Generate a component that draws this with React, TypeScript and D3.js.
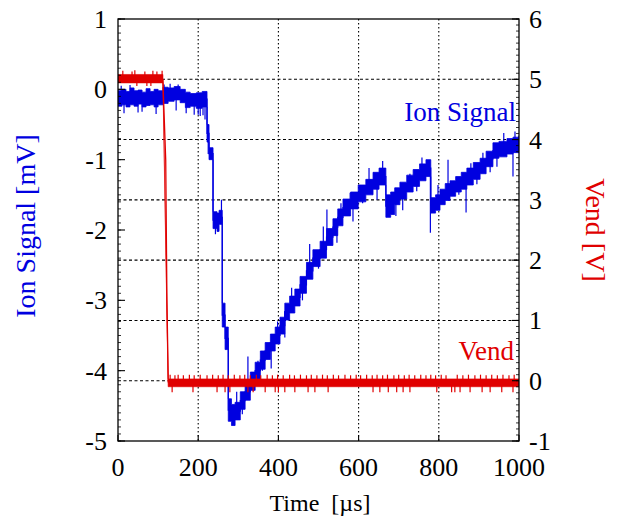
import React from 'react';
import * as d3 from 'd3';

// ---- Data ----
const xTicks = [0, 200, 400, 600, 800, 1000];
const leftTicks = [-5, -4, -3, -2, -1, 0, 1];
const rightTicks = [-1, 0, 1, 2, 3, 4, 5, 6];
const xGrid = [200, 400, 600, 800];
const rightGrid = [0, 1, 2, 3, 4, 5];

// Ion signal envelope [mV]
const ionTime = [0, 10, 20, 30, 40, 50, 60, 70, 80, 90, 100, 112, 125, 140, 155, 168, 180, 195, 210, 222, 227, 237, 247, 252, 260, 267, 275, 283, 292, 305, 317, 330, 342, 355, 367, 380, 392, 404, 416, 428, 441, 454, 470, 486, 504, 520, 536, 548, 561, 580, 599, 618, 636, 651, 668, 680, 690, 703, 720, 736, 752, 768, 780, 792, 803, 816, 828, 842, 856, 870, 886, 903, 918, 935, 950, 970, 985, 1000];
const ionLow = [-0.24, -0.22, -0.25, -0.22, -0.24, -0.21, -0.25, -0.23, -0.22, -0.25, -0.22, -0.2, -0.17, -0.15, -0.19, -0.26, -0.24, -0.27, -0.25, -0.75, -1.0, -1.98, -2.02, -1.92, -3.38, -3.7, -4.72, -4.78, -4.7, -4.55, -4.42, -4.28, -4.12, -3.98, -3.84, -3.72, -3.62, -3.48, -3.28, -3.18, -3.08, -2.9, -2.7, -2.52, -2.4, -2.22, -2.08, -1.94, -1.8, -1.7, -1.6, -1.5, -1.42, -1.36, -1.82, -1.78, -1.64, -1.56, -1.46, -1.38, -1.3, -1.24, -1.76, -1.72, -1.64, -1.58, -1.52, -1.46, -1.42, -1.36, -1.28, -1.2, -1.1, -0.98, -0.96, -0.92, -0.9, -0.88];
const ionHigh = [-0.02, 0.0, -0.03, 0.02, -0.02, -0.01, -0.04, 0.01, -0.03, 0.0, -0.02, 0.03, 0.02, 0.04, 0.0, -0.04, -0.06, -0.05, -0.03, -0.5, -0.83, -1.74, -1.76, -1.72, -3.04, -3.38, -4.4, -4.48, -4.45, -4.3, -4.18, -4.02, -3.88, -3.72, -3.6, -3.48, -3.38, -3.24, -3.04, -2.94, -2.84, -2.66, -2.46, -2.28, -2.16, -1.98, -1.84, -1.7, -1.56, -1.46, -1.36, -1.28, -1.18, -1.12, -1.5, -1.46, -1.4, -1.32, -1.22, -1.14, -1.06, -1.0, -1.54, -1.5, -1.42, -1.34, -1.3, -1.24, -1.18, -1.12, -1.04, -0.98, -0.88, -0.76, -0.74, -0.7, -0.68, -0.66];
// Ion signal spikes: time [µs], tip value [mV]
const ionSpikeTime = [8, 15, 30, 50, 60, 95, 115, 130, 145, 150, 170, 190, 200, 205, 212, 217, 225, 243, 258, 296, 310, 324, 349, 360, 382, 398, 416, 433, 460, 478, 500, 512, 521, 546, 556, 579, 586, 610, 626, 646, 660, 693, 710, 728, 745, 758, 779, 798, 823, 850, 868, 880, 895, 910, 928, 945, 962, 985, 990];
const ionSpikeValue = [0.05, -0.34, 0.06, -0.33, -0.32, -0.35, 0.07, 0.08, -0.3, 0.07, -0.34, -0.36, -0.36, -0.38, -0.37, -0.43, -0.92, -2.06, -1.57, -4.3, -4.62, -3.8, -3.86, -4.0, -3.97, -3.3, -3.53, -2.82, -3.0, -2.2, -2.55, -1.95, -1.71, -2.18, -1.62, -1.47, -1.88, -1.62, -1.12, -1.57, -1.02, -1.8, -1.72, -1.2, -1.45, -0.97, -2.04, -1.36, -1.0, -1.5, -1.75, -1.05, -1.35, -0.9, -1.18, -1.1, -0.62, -1.24, -0.6];

// Vend envelope [V]
const vendTime = [0, 112, 125, 1000];
const vendLow = [4.94, 4.94, -0.1, -0.1];
const vendHigh = [5.08, 5.08, 0.03, 0.03];
const vendDropTime = [112, 114, 119, 122, 125.4];
const vendDropValue = [5.0, 4.6, 3.66, 1.34, -0.03];
// Vend spikes
const vendSpikeTime = [12, 35, 42, 47, 67, 72, 82, 87, 97, 110,
  130, 135, 142, 150, 163, 178, 187, 190, 205, 222, 236, 247, 250, 262, 267, 275, 279, 290, 304, 316, 324, 330, 337, 345, 356, 367, 372, 385, 392, 398, 400, 412, 416, 428, 440, 441, 455, 470, 474, 482, 491, 496, 510, 522, 524, 537, 550, 566, 580, 594, 605, 620, 634, 636, 646, 653, 660, 672, 674, 688, 695, 700, 711, 714, 726, 728, 740, 755, 768, 780, 792, 795, 806, 818, 832, 840, 846, 853, 860, 874, 878, 890, 904, 908, 918, 928, 932, 946, 957, 960, 975, 985, 988];
const vendSpikeValue = [5.14, 5.13, 5.15, 4.89, 5.13, 4.89, 4.89, 5.14, 5.13, 5.14,
  0.1, -0.19, 0.09, 0.1, 0.09, 0.1, -0.19, 0.09, 0.1, 0.09, 0.1, -0.19, 0.09, 0.1, -0.19, 0.09, -0.19, 0.1, 0.09, 0.1, -0.19, 0.09, -0.19, 0.1, 0.09, -0.19, 0.1, 0.09, -0.19, 0.1, -0.19, 0.09, -0.19, 0.1, 0.09, -0.19, 0.1, 0.09, -0.19, 0.1, -0.19, 0.09, 0.1, 0.09, -0.19, 0.1, 0.09, 0.1, 0.09, 0.1, 0.09, 0.1, 0.09, -0.19, 0.1, -0.19, 0.09, 0.1, -0.19, 0.09, -0.19, 0.1, -0.19, 0.09, 0.1, -0.19, 0.09, 0.1, 0.09, 0.1, 0.09, -0.19, 0.1, 0.09, -0.19, -0.19, 0.1, -0.19, 0.09, 0.1, -0.19, 0.09, 0.1, -0.19, 0.09, -0.19, 0.1, 0.09, -0.19, 0.1, 0.09, -0.19, 0.1];

const BLUE = '#0000e0';
const RED = '#e00000';
const FONT = '"Liberation Serif", "Times New Roman", serif';

export default function App() {
  const W = 618, H = 518;
  const L = 118, R = 519, T = 19, B = 441;
  const x = d3.scaleLinear().domain([0, 1000]).range([L, R]);
  const yL = d3.scaleLinear().domain([-5, 1]).range([B, T]);
  const yR = d3.scaleLinear().domain([-1, 6]).range([B, T]);

  const ionIdx = d3.range(ionTime.length);
  const ionArea = d3.area<number>()
    .x(i => x(ionTime[i]))
    .y0(i => yL(ionLow[i]))
    .y1(i => yL(ionHigh[i]))
    .curve(d3.curveStepAfter)(ionIdx) || '';
  const ionMid = d3.line<number>()
    .x(i => x(ionTime[i]))
    .y(i => yL((ionLow[i] + ionHigh[i]) / 2))
    .curve(d3.curveStepAfter)(ionIdx) || '';

  const ionMidAt = (t: number) => {
    const i = Math.max(0, d3.bisectRight(ionTime, t) - 1);
    return (ionLow[i] + ionHigh[i]) / 2;
  };

  const vendIdx = d3.range(vendTime.length);
  const vendArea = d3.area<number>()
    .x(i => x(vendTime[i]))
    .y0(i => yR(vendLow[i]))
    .y1(i => yR(vendHigh[i]))(vendIdx) || '';
  const vendDrop = d3.line<number>()
    .x(i => x(vendDropTime[i]))
    .y(i => yR(vendDropValue[i]))(d3.range(vendDropTime.length)) || '';
  const vendMidAt = (t: number) => (t < 115 ? 5.01 : -0.035);

  const leftMinor = d3.range(-50, 11).map(v => v / 10);
  const rightMinor = d3.range(-10, 61).map(v => v / 10);

  return (
    <svg width={W} height={H} style={{ position: 'absolute', left: 0, top: 0, background: '#fff' }}
      fontFamily={FONT}>
      <defs>
        <clipPath id="plotclip">
          <rect x={L} y={T - 2} width={R - L} height={B - T + 4} />
        </clipPath>
      </defs>
      {/* grid */}
      {xGrid.map(v => (
        <line key={'gx' + v} x1={x(v)} x2={x(v)} y1={T} y2={B} stroke="#000" strokeWidth={1.1} strokeDasharray="1.5,2.5" />
      ))}
      {rightGrid.map(v => (
        <line key={'gy' + v} x1={L} x2={R} y1={yR(v)} y2={yR(v)} stroke="#000" strokeWidth={1.1} strokeDasharray="3,2.5" />
      ))}

      <g clipPath="url(#plotclip)">
        {/* ion signal */}
        <path d={ionArea} fill={BLUE} stroke={BLUE} strokeWidth={0.8} />
        <path d={ionMid} fill="none" stroke={BLUE} strokeWidth={1.2} />
        {ionSpikeTime.map((t, i) => (
          <line key={'is' + i} x1={x(t)} x2={x(t)} y1={yL(ionMidAt(t))} y2={yL(ionSpikeValue[i])} stroke={BLUE} strokeWidth={1.2} />
        ))}
        {/* vend */}
        <path d={vendArea} fill={RED} stroke={RED} strokeWidth={0.6} />
        <path d={vendDrop} fill="none" stroke={RED} strokeWidth={1.3} />
        {vendSpikeTime.map((t, i) => (
          <line key={'vs' + i} x1={x(t)} x2={x(t)} y1={yR(vendMidAt(t))} y2={yR(vendSpikeValue[i])} stroke={RED} strokeWidth={1.2} />
        ))}
      </g>

      {/* frame */}
      <rect x={L} y={T} width={R - L} height={B - T} fill="none" stroke="#000" strokeWidth={1.3} />

      {/* minor ticks */}
      {leftMinor.map(v => (
        <line key={'lm' + v} x1={L} x2={L + 3} y1={yL(v)} y2={yL(v)} stroke="#000" strokeWidth={0.8} />
      ))}
      {rightMinor.map(v => (
        <line key={'rm' + v} x1={R - 3} x2={R} y1={yR(v)} y2={yR(v)} stroke="#000" strokeWidth={0.8} />
      ))}
      {/* major ticks */}
      {leftTicks.map(v => (
        <line key={'lt' + v} x1={L} x2={L + 7} y1={yL(v)} y2={yL(v)} stroke="#000" strokeWidth={1.1} />
      ))}
      {rightTicks.map(v => (
        <line key={'rt' + v} x1={R - 7} x2={R} y1={yR(v)} y2={yR(v)} stroke="#000" strokeWidth={1.1} />
      ))}
      {xTicks.map(v => (
        <line key={'xt' + v} x1={x(v)} x2={x(v)} y1={B} y2={B - 6} stroke="#000" strokeWidth={1.1} />
      ))}

      {/* tick labels */}
      {leftTicks.map(v => (
        <text key={'ll' + v} x={107} y={yL(v) + 9} fontSize={26} textAnchor="end" fill="#000">{String(v)}</text>
      ))}
      {rightTicks.map(v => (
        <text key={'rl' + v} x={529} y={yR(v) + 9} fontSize={26} textAnchor="start" fill="#000">{String(v)}</text>
      ))}
      {xTicks.map(v => (
        <text key={'xl' + v} x={x(v)} y={476} fontSize={26} textAnchor="middle" fill="#000">{String(v)}</text>
      ))}

      {/* axis titles */}
      <text x={320} y={511} fontSize={24} textAnchor="middle" fill="#000" style={{ whiteSpace: 'pre' }}>{'Time  [µs]'}</text>
      <text transform="translate(35,226) rotate(-90)" fontSize={28} textAnchor="middle" fill={BLUE}>Ion Signal [mV]</text>
      <text transform="translate(586,230) rotate(90)" fontSize={28} textAnchor="middle" fill={RED}>Vend [V]</text>

      {/* legend labels */}
      <text x={516} y={121} fontSize={27} textAnchor="end" fill={BLUE}>Ion Signal</text>
      <text x={514} y={360} fontSize={27} textAnchor="end" fill={RED}>Vend</text>
    </svg>
  );
}
